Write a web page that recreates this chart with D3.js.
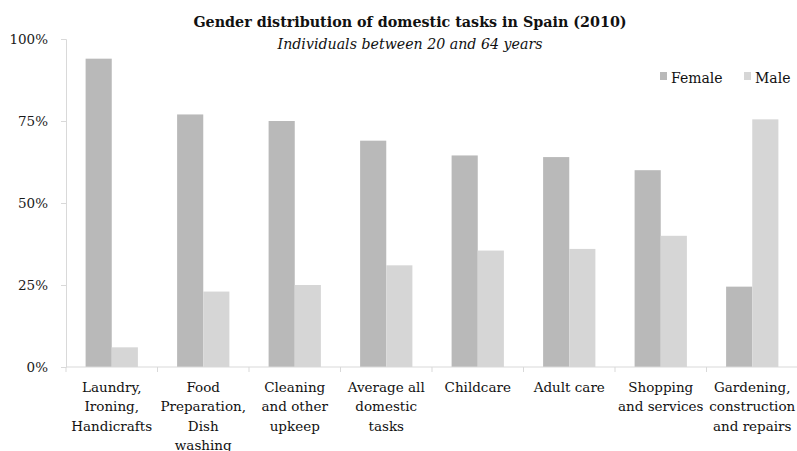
<!DOCTYPE html>
<html>
<head>
<meta charset="utf-8">
<script src="https://cdn.jsdelivr.net/npm/d3@7"></script>
<style>
  html, body { margin: 0; padding: 0; background: #fff; }
  svg { display: block; font-family: "DejaVu Serif", "Liberation Serif", serif; }
</style>
</head>
<body>
<svg id="chart" width="797" height="451"></svg>
<script>
// Share of time spent on each domestic task, by gender (%)
const categories = [
  ["Laundry,", "Ironing,", "Handicrafts"],
  ["Food", "Preparation,", "Dish", "washing"],
  ["Cleaning", "and other", "upkeep"],
  ["Average all", "domestic", "tasks"],
  ["Childcare"],
  ["Adult care"],
  ["Shopping", "and services"],
  ["Gardening,", "construction", "and repairs"]
];
const femaleValues = [94, 77, 75, 69, 64.5, 64, 60, 24.5];
const maleValues   = [6, 23, 25, 31, 35.5, 36, 40, 75.5];
const seriesNames  = ["Female", "Male"];
const yTicks       = [0, 25, 50, 75, 100];

const colors = { Female: "#b9b9b9", Male: "#d6d6d6" };
const svg = d3.select("#chart");

const plotLeft = 66, plotRight = 798, plotTop = 39, plotBottom = 367;
const keys = categories.map((c, i) => i);

const x0 = d3.scaleBand().domain(keys).range([plotLeft, plotRight]).paddingInner(0).paddingOuter(0);
const x1 = d3.scaleBand().domain(seriesNames).range([0, x0.bandwidth()]).paddingInner(0).paddingOuter(0.75);
const y = d3.scaleLinear().domain([0, 100]).range([plotBottom, plotTop]);

const rows = keys.map(i => ({ i, Female: femaleValues[i], Male: maleValues[i] }));

// bars
svg.append("g").selectAll("g")
  .data(rows).join("g")
  .attr("transform", d => `translate(${x0(d.i)},0)`)
  .selectAll("rect")
  .data(d => seriesNames.map(k => ({ k, v: d[k] })))
  .join("rect")
  .attr("x", d => x1(d.k))
  .attr("width", x1.bandwidth())
  .attr("y", d => y(d.v))
  .attr("height", d => y(0) - y(d.v))
  .attr("fill", d => colors[d.k]);

// y axis
const yAxis = svg.append("g")
  .attr("transform", `translate(${plotLeft},0)`)
  .call(d3.axisLeft(y).tickValues(yTicks).tickFormat(d => d + "%").tickSize(5).tickPadding(13));
yAxis.select(".domain").attr("stroke", "#d9d9d9");
yAxis.selectAll(".tick line").attr("stroke", "#d9d9d9");
yAxis.selectAll(".tick text")
  .attr("font-family", "\"DejaVu Serif\", serif")
  .attr("font-size", 13.5).attr("fill", "#1a1a1a");

// x axis line with ticks at category boundaries
svg.append("line")
  .attr("x1", plotLeft).attr("x2", plotRight)
  .attr("y1", plotBottom).attr("y2", plotBottom)
  .attr("stroke", "#d9d9d9");
svg.append("g").selectAll("line")
  .data(keys.concat([keys.length]))
  .join("line")
  .attr("x1", i => plotLeft + i * x0.step()).attr("x2", i => plotLeft + i * x0.step())
  .attr("y1", plotBottom).attr("y2", plotBottom + 5)
  .attr("stroke", "#d9d9d9");

// category labels
const lab = svg.append("g").selectAll("text")
  .data(rows).join("text")
  .attr("x", d => x0(d.i) + x0.bandwidth() / 2)
  .attr("y", 392)
  .attr("text-anchor", "middle")
  .attr("font-size", 13.5)
  .attr("fill", "#111");
lab.selectAll("tspan")
  .data(d => categories[d.i].map((t, j) => ({ t, j, cx: x0(d.i) + x0.bandwidth() / 2 })))
  .join("tspan")
  .attr("x", d => d.cx)
  .attr("dy", d => d.j === 0 ? 0 : 19.3)
  .text(d => d.t);

// title
svg.append("text")
  .attr("x", 410).attr("y", 27)
  .attr("text-anchor", "middle")
  .attr("font-size", 14.3).attr("font-weight", "bold").attr("fill", "#111")
  .text("Gender distribution of domestic tasks in Spain (2010)");
svg.append("text")
  .attr("x", 410).attr("y", 49)
  .attr("text-anchor", "middle")
  .attr("font-size", 14.2).attr("font-style", "italic").attr("fill", "#111")
  .text("Individuals between 20 and 64 years");

// legend
const legendX = [660, 744];
const lg = svg.append("g").selectAll("g")
  .data(seriesNames).join("g")
  .attr("transform", (d, i) => `translate(${legendX[i]},72)`);
lg.append("rect").attr("width", 7).attr("height", 8).attr("fill", d => colors[d]);
lg.append("text").attr("x", 11).attr("y", 11)
  .attr("font-size", 14).attr("fill", "#111")
  .text(d => d);
</script>
</body>
</html>
